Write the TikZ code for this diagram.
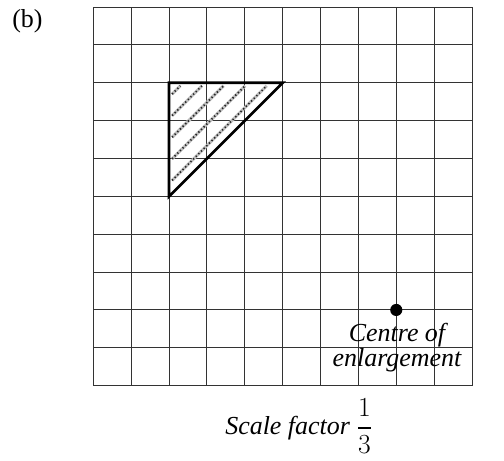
\documentclass[tikz,border=0pt]{standalone}
\usepackage{fontspec}
\setmainfont{Liberation Serif}
\usepackage{amsmath}

\tikzset{
    gridline/.style={black!80, line width=0.7pt},
    shapeline/.style={black, line width=2pt, line join=miter},
    hatchline/.style={gray!50, line width=2.3pt, postaction={draw=black!85, line width=1.3pt, dash pattern=on 1pt off 1.8pt}},
    labeltext/.style={font=\fontsize{19.5}{18.3}\selectfont\itshape, inner sep=0pt},
}

\begin{document}
\begin{tikzpicture}
    \useasboundingbox (-2.464,-1.988) rectangle (10.845,10.185);

    % Grid
    \draw[gridline] (0,0) grid (10,10);

    % Hatching inside the triangle
    \foreach \c in {0.38,0.95,1.52,2.09,2.66}
        \draw[hatchline] (2.08,{8.08-\c}) -- ({1.92+\c},7.92);

    % Triangle
    \draw[shapeline] (2,8) -- (5,8) -- (2,5) -- cycle;

    % Centre of enlargement
    \coordinate (centre) at (8,2);
    \fill (centre) circle (0.16);
    \node[labeltext, align=center, anchor=base] (centrelabel) at (8.02,0.52) {Centre of\\enlargement};

    % Scale factor
    \node[labeltext, anchor=base west] (scale) at (3.478,-1.30) {Scale factor {\fontsize{22}{26}\selectfont$\dfrac{1}{3}$}};

    % Part label
    \node[font=\fontsize{19.5}{22}\selectfont, inner sep=0pt, anchor=base west] (part) at (-2.147,9.446) {(b)};
\end{tikzpicture}
\end{document}
